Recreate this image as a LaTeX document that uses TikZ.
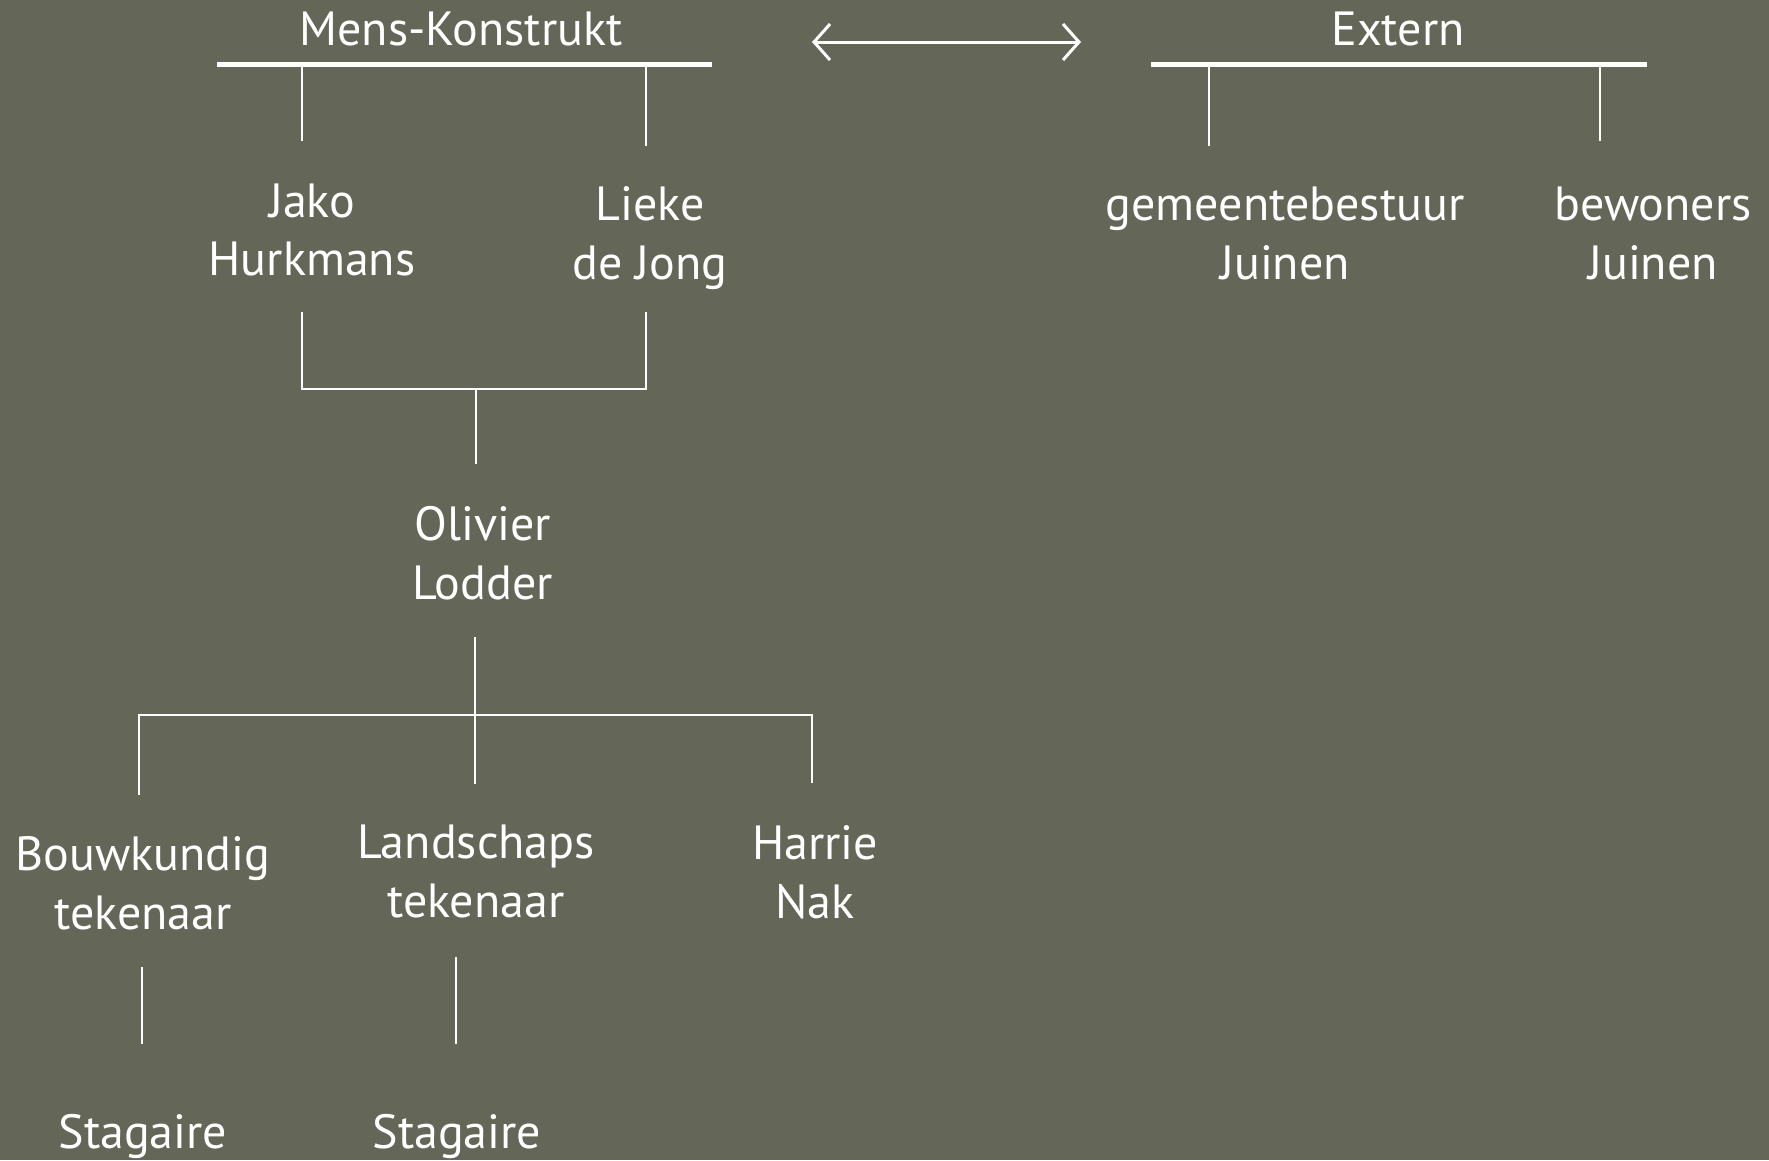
\documentclass[tikz,border=0pt]{standalone}
\usepackage{fontspec}
\setmainfont{PT Sans}
\usetikzlibrary{arrows.meta}
\definecolor{bg}{HTML}{646658}
\tikzset{
  lbl/.style={text=white, align=center, inner sep=0pt, font=\fontsize{48}{58.7}\selectfont},
  thin/.style={draw=white, line width=2.8pt},
  bar/.style={draw=white, line width=5pt},
}
\begin{document}
\begin{tikzpicture}[x=1pt,y=-1pt]
\fill[bg] (0,0) rectangle (1769,1160);
\useasboundingbox (0,0) rectangle (1769,1160);
% titles
\node[lbl, anchor=base] (mk) at (461,45) {Mens-Konstrukt};
\node[lbl, anchor=base] (ex) at (1398,45) {Extern};
% bars
\coordinate (mkL) at (217,64); \coordinate (mkR) at (712,64);
\coordinate (exL) at (1151,64); \coordinate (exR) at (1647,64);
\draw[bar] (mkL) -- (mkR);
\draw[bar] (exL) -- (exR);
% arrow
\coordinate (aL) at (812,42); \coordinate (aR) at (1081,42);
\draw[draw=white, line width=3pt, {Straight Barb[length=16pt,width=36pt,line width=3pt]}-{Straight Barb[length=16pt,width=36pt,line width=3pt]}] (aL) -- (aR);
% level 1 nodes
\node[lbl] (jako) at (312,230) {Jako\\Hurkmans};
\node[lbl] (lieke) at (650,238) {Lieke\\de Jong};
\node[lbl] (gem) at (1285,233.5) {gemeentebestuur\\Juinen};
\node[lbl] (bew) at (1653,233.5) {bewoners\\Juinen};
\coordinate (d1t) at (302,66); \coordinate (d1b) at (302,141);
\coordinate (d2t) at (646,66); \coordinate (d2b) at (646,146);
\coordinate (d3t) at (1209,66); \coordinate (d3b) at (1209,146);
\coordinate (d4t) at (1600,66); \coordinate (d4b) at (1600,141);
\draw[thin] (d1t) -- (d1b);
\draw[thin] (d2t) -- (d2b);
\draw[thin] (d3t) -- (d3b);
\draw[thin] (d4t) -- (d4b);
% bracket
\coordinate (b1) at (302,312); \coordinate (b2) at (646,312);
\coordinate (bm) at (476,389); \coordinate (bmb) at (476,464);
\draw[thin] (b1) |- (bm) -| (b2);
\draw[thin] (bm) -- (bmb);
% Olivier
\node[lbl] (oli) at (483,553) {Olivier\\Lodder};
\coordinate (ot) at (475,637); \coordinate (oh) at (475,715); \coordinate (ob) at (475,784);
\coordinate (hL) at (139,715); \coordinate (hR) at (812,715);
\coordinate (hLb) at (139,795); \coordinate (hRb) at (812,783);
\draw[thin] (ot) -- (ob);
\draw[thin] (hLb) -- (hL) -- (hR) -- (hRb);
% level 3
\node[lbl] (bouw) at (143,883.5) {Bouwkundig\\tekenaar};
\node[lbl] (land) at (476,871.5) {Landschaps\\tekenaar};
\node[lbl] (harrie) at (815,872) {Harrie\\Nak};
\coordinate (s1t) at (142,967); \coordinate (s1b) at (142,1044);
\coordinate (s2t) at (456,957); \coordinate (s2b) at (456,1044);
\draw[thin] (s1t) -- (s1b);
\draw[thin] (s2t) -- (s2b);
\node[lbl] (st1) at (143,1136) {Stagaire};
\node[lbl] (st2) at (457,1136) {Stagaire};
\end{tikzpicture}
\end{document}
